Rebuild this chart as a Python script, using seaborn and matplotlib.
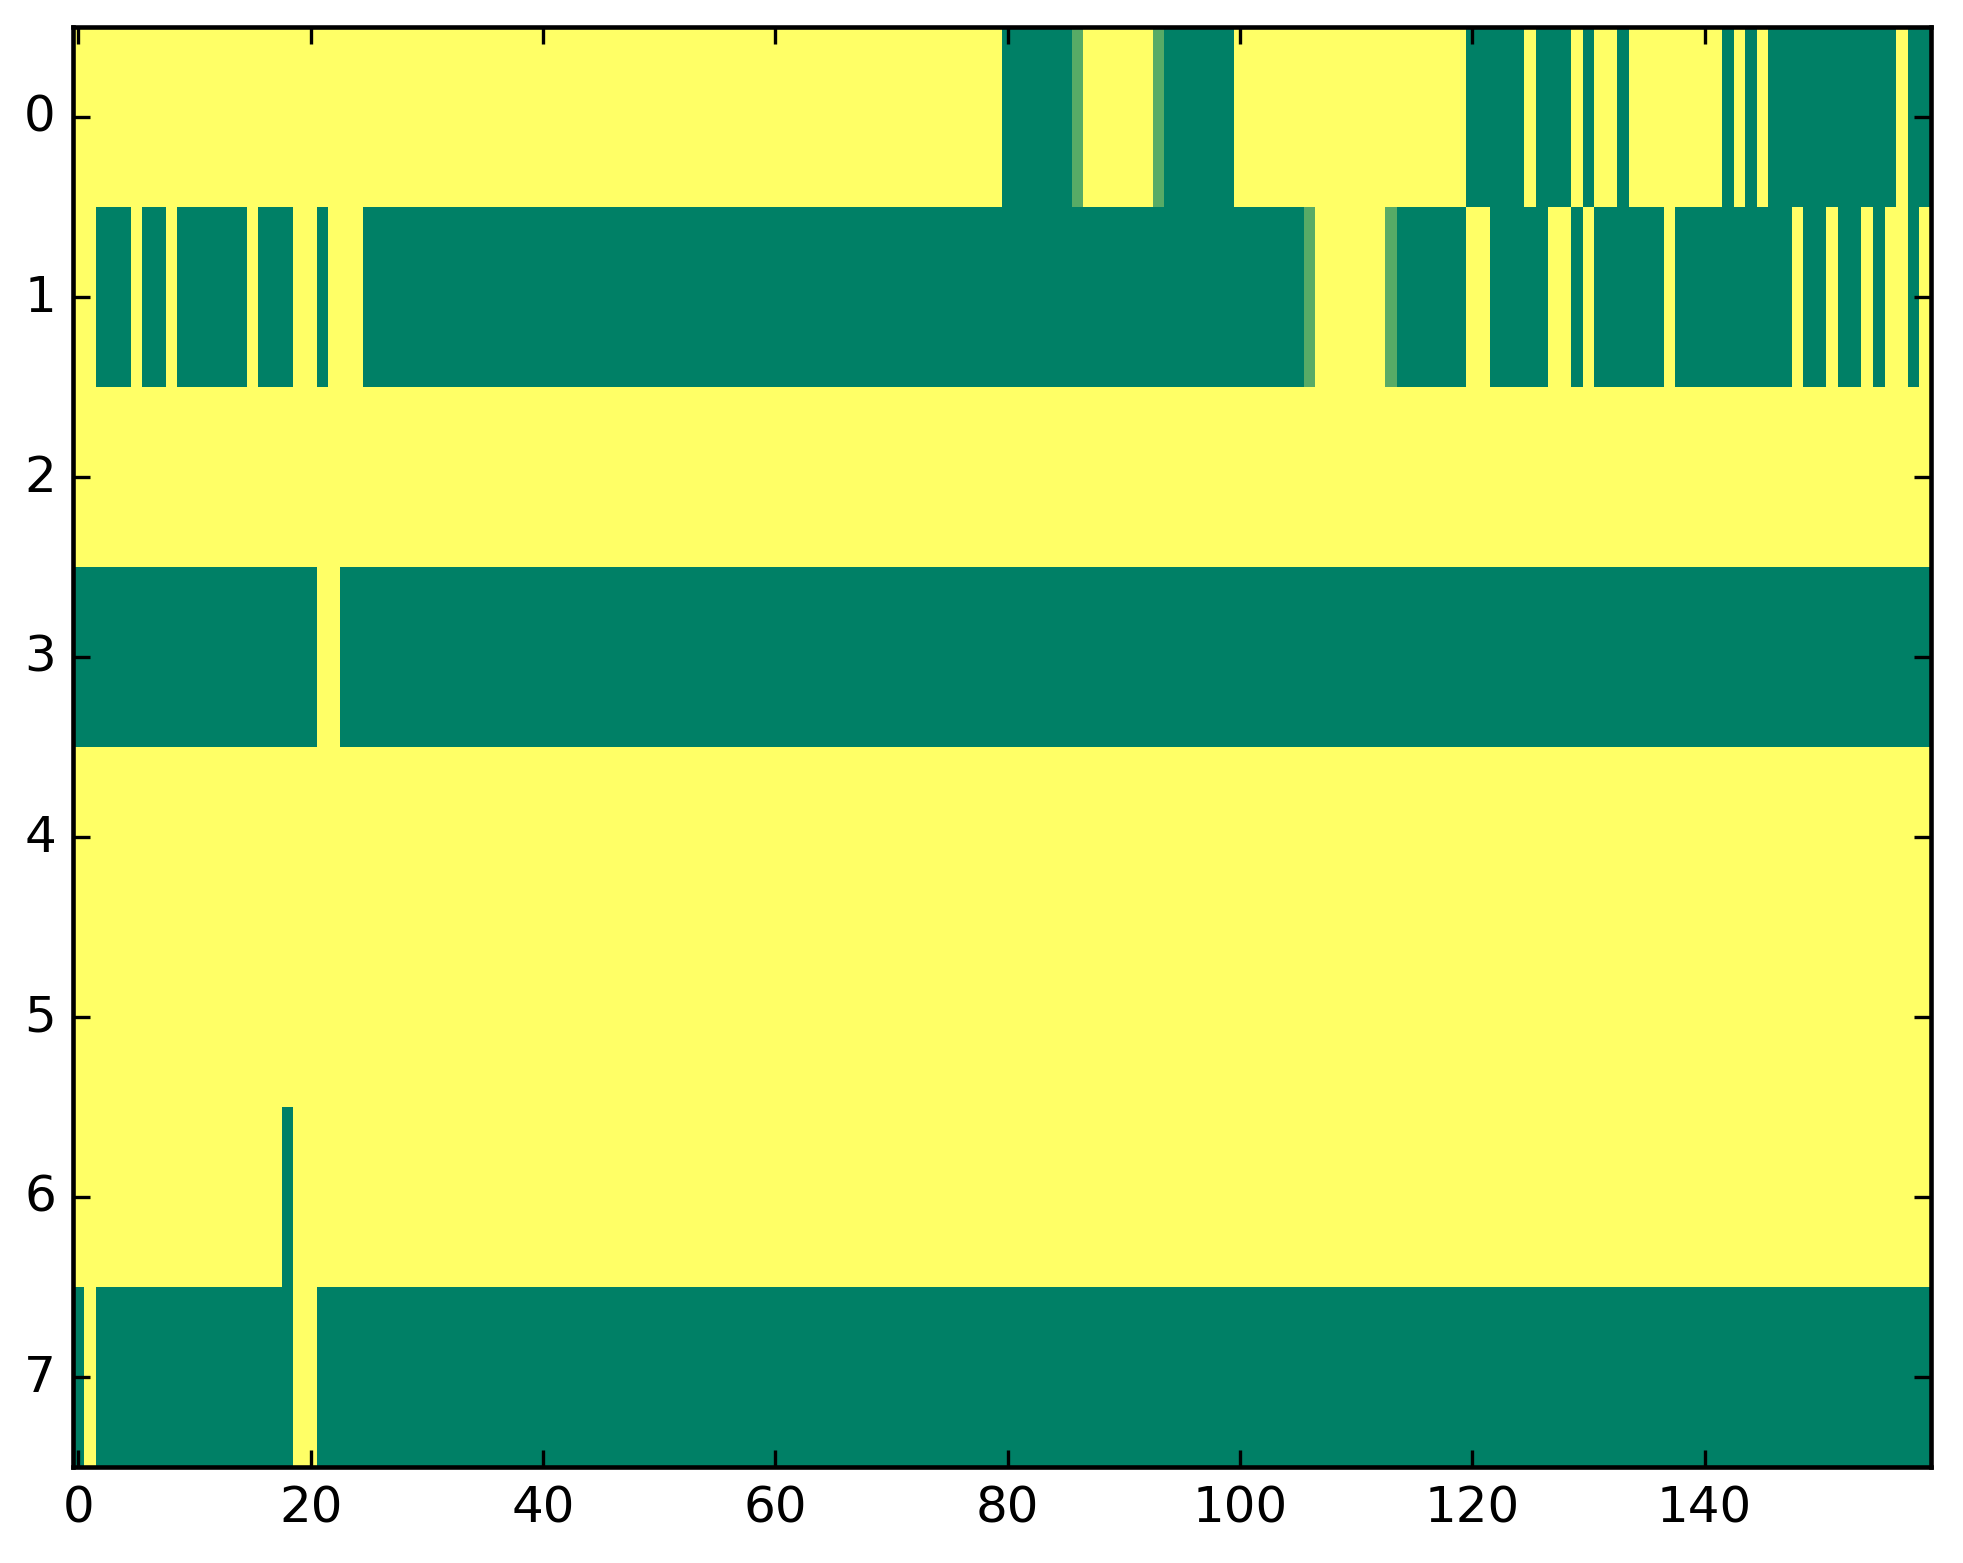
import numpy as np
import matplotlib
matplotlib.use("Agg")
import matplotlib.pyplot as plt
import seaborn as sns

# each row as (value, run length) pairs, 160 columns
MID = 0.34
row0 = [(1, 80), (0, 6), (MID, 1), (1, 6), (MID, 1), (0, 6), (1, 20), (0, 5), (1, 1),
        (0, 3), (1, 1), (0, 1), (1, 2), (0, 1), (1, 8), (0, 1), (1, 1), (0, 1), (1, 1),
        (0, 11), (1, 1), (0, 2)]
row1 = [(1, 2), (0, 3), (1, 1), (0, 2), (1, 1), (0, 6), (1, 1), (0, 3), (1, 2), (0, 1),
        (1, 3), (0, 81), (MID, 1), (1, 6), (MID, 1), (0, 6), (1, 2), (0, 5), (1, 2),
        (0, 1), (1, 1), (0, 6), (1, 1), (0, 10), (1, 1), (0, 2), (1, 1), (0, 2), (1, 1),
        (0, 1), (1, 2), (0, 1), (1, 1)]
row2 = [(1, 160)]
row3 = [(0, 21), (1, 2), (0, 137)]
row4 = [(1, 160)]
row5 = [(1, 160)]
row6 = [(1, 18), (0, 1), (1, 141)]
row7 = [(0, 1), (1, 1), (0, 17), (1, 2), (0, 139)]

rows = [row0, row1, row2, row3, row4, row5, row6, row7]
xtick_vals = [0, 20, 40, 60, 80, 100, 120, 140]
ytick_vals = [0, 1, 2, 3, 4, 5, 6, 7]


def expand(runs):
    vals, counts = zip(*runs)
    return np.repeat(vals, counts)


data = np.vstack([expand(r) for r in rows])

sns.set_style("white")
plt.rcParams['font.family'] = ['DejaVu Sans']
fig = plt.figure(figsize=(1963 / 300, 1564 / 300), dpi=300)
ax = fig.add_axes([0.037, 0.0614, 0.9467, 0.921])

sns.heatmap(data, cmap='summer', vmin=0, vmax=1, cbar=False, ax=ax)
ax.set_axisbelow(False)

ax.set_xticks([v + 0.5 for v in xtick_vals])
ax.set_xticklabels([str(v) for v in xtick_vals], rotation=0, fontsize=12, color='black')
ax.set_yticks([v + 0.5 for v in ytick_vals])
ax.set_yticklabels([str(v) for v in ytick_vals], rotation=0, fontsize=12, color='black')

for sp in ax.spines.values():
    sp.set_visible(True)
    sp.set_linewidth(1.1)
    sp.set_color('black')
    sp.set_zorder(5)
ax.tick_params(direction='in', length=4, width=0.8, color='black',
               top=True, right=True, bottom=True, left=True, pad=4)

fig.savefig("out.png", dpi=300)
